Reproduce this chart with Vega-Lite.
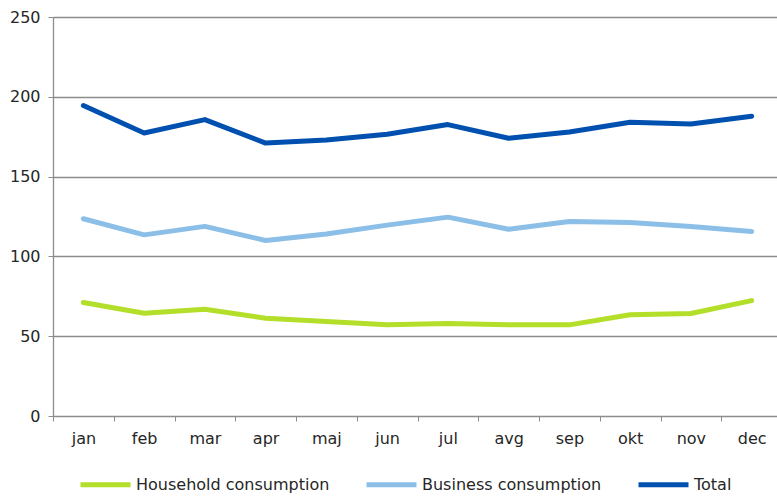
{
  "$schema": "https://vega.github.io/schema/vega-lite/v6.json",
  "autosize": "none",
  "padding": {"left": 53, "top": 17, "right": 0, "bottom": 81},
  "width": 729,
  "height": 399,
  "background": "white",
  "config": {
    "view": {"stroke": null},
    "font": "DejaVu Sans"
  },
  "data": {
    "values": [
      {"month": "jan", "series": "Household consumption", "value": 71.1},
      {"month": "feb", "series": "Household consumption", "value": 64.4},
      {"month": "mar", "series": "Household consumption", "value": 66.9},
      {"month": "apr", "series": "Household consumption", "value": 61.3},
      {"month": "maj", "series": "Household consumption", "value": 59.2},
      {"month": "jun", "series": "Household consumption", "value": 57.1},
      {"month": "jul", "series": "Household consumption", "value": 58.0},
      {"month": "avg", "series": "Household consumption", "value": 57.1},
      {"month": "sep", "series": "Household consumption", "value": 57.1},
      {"month": "okt", "series": "Household consumption", "value": 63.4},
      {"month": "nov", "series": "Household consumption", "value": 64.2},
      {"month": "dec", "series": "Household consumption", "value": 72.3},
      {"month": "jan", "series": "Business consumption", "value": 123.6},
      {"month": "feb", "series": "Business consumption", "value": 113.5},
      {"month": "mar", "series": "Business consumption", "value": 118.8},
      {"month": "apr", "series": "Business consumption", "value": 110.0},
      {"month": "maj", "series": "Business consumption", "value": 114.0},
      {"month": "jun", "series": "Business consumption", "value": 119.6},
      {"month": "jul", "series": "Business consumption", "value": 124.6},
      {"month": "avg", "series": "Business consumption", "value": 117.0},
      {"month": "sep", "series": "Business consumption", "value": 121.9},
      {"month": "okt", "series": "Business consumption", "value": 121.3},
      {"month": "nov", "series": "Business consumption", "value": 118.8},
      {"month": "dec", "series": "Business consumption", "value": 115.6},
      {"month": "jan", "series": "Total", "value": 194.5},
      {"month": "feb", "series": "Total", "value": 177.3},
      {"month": "mar", "series": "Total", "value": 185.7},
      {"month": "apr", "series": "Total", "value": 171.0},
      {"month": "maj", "series": "Total", "value": 173.0},
      {"month": "jun", "series": "Total", "value": 176.5},
      {"month": "jul", "series": "Total", "value": 182.6},
      {"month": "avg", "series": "Total", "value": 174.0},
      {"month": "sep", "series": "Total", "value": 178.0},
      {"month": "okt", "series": "Total", "value": 184.0},
      {"month": "nov", "series": "Total", "value": 183.0},
      {"month": "dec", "series": "Total", "value": 187.8}
    ]
  },
  "mark": {"type": "line", "strokeWidth": 5, "strokeJoin": "round", "strokeCap": "round"},
  "encoding": {
    "x": {
      "field": "month",
      "type": "nominal",
      "sort": ["jan","feb","mar","apr","maj","jun","jul","avg","sep","okt","nov","dec"],
      "scale": {"paddingInner": 0, "paddingOuter": 0},
      "axis": {
        "title": null,
        "labelAngle": 0,
        "tickBand": "extent",
        "domainColor": "#8c8c8c",
        "tickColor": "#8c8c8c",
        "tickSize": 5,
        "labelPadding": 9,
        "labelFontSize": 16,
        "labelColor": "#262626",
        "labelFont": "DejaVu Sans",
        "grid": false
      }
    },
    "y": {
      "field": "value",
      "type": "quantitative",
      "scale": {"domain": [0, 250], "nice": false},
      "axis": {
        "title": null,
        "values": [0, 50, 100, 150, 200, 250],
        "domainColor": "#8c8c8c",
        "tickColor": "#8c8c8c",
        "gridColor": "#8c8c8c",
        "gridWidth": 1.3,
        "domainWidth": 1.3,
        "tickSize": 5,
        "labelPadding": 8,
        "labelFontSize": 16,
        "labelColor": "#262626",
        "labelFont": "DejaVu Sans"
      }
    },
    "color": {
      "field": "series",
      "type": "nominal",
      "sort": ["Household consumption", "Business consumption", "Total"],
      "scale": {
        "domain": ["Household consumption", "Business consumption", "Total"],
        "range": ["#b3de29", "#8cbfe8", "#0050b0"]
      },
      "legend": {
        "title": null,
        "orient": "none",
        "direction": "horizontal",
        "legendX": 25,
        "legendY": 440,
        "padding": 0,
        "symbolType": "stroke",
        "symbolSize": 2500,
        "symbolStrokeWidth": 5,
        "labelOffset": 3,
        "labelLimit": 400,
        "columnPadding": 26,
        "labelFontSize": 16,
        "labelColor": "#262626",
        "labelFont": "DejaVu Sans"
      }
    }
  }
}
